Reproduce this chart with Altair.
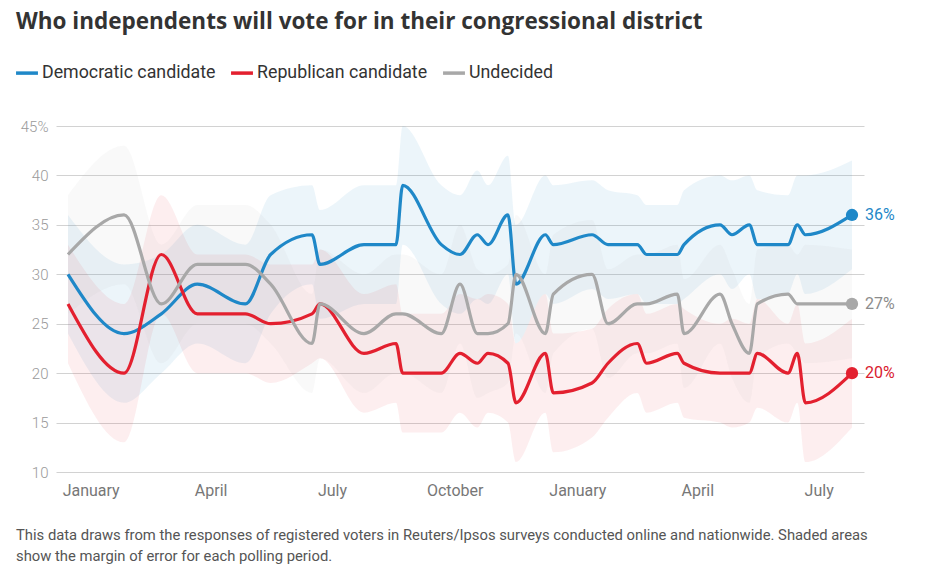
import altair as alt
import pandas as pd

# ---- data ----
dates = ["2016-12-15", "2017-01-26", "2017-02-23", "2017-03-22", "2017-04-27",
         "2017-05-16", "2017-06-16", "2017-06-22", "2017-07-25", "2017-08-18",
         "2017-08-23", "2017-09-21", "2017-10-05", "2017-10-18", "2017-10-26",
         "2017-11-10", "2017-11-16", "2017-12-08", "2017-12-14", "2018-01-12",
         "2018-01-24", "2018-02-15", "2018-02-22", "2018-03-17", "2018-03-22",
         "2018-04-18", "2018-04-27", "2018-05-10", "2018-05-16", "2018-06-08",
         "2018-06-15", "2018-06-21", "2018-07-26"]
dem = [30, 24, 26, 29, 27, 32, 34, 31, 33, 33, 39, 33, 32, 34, 33, 36, 29, 34, 33, 34,
       33, 33, 32, 32, 33, 35, 34, 35, 33, 33, 35, 34, 36]
rep = [27, 20, 32, 26, 26, 25, 26, 27, 22, 23, 20, 20, 22, 21, 22, 21, 17, 22, 18, 19,
       21, 23, 21, 22, 21, 20, 20, 20, 22, 20, 22, 17, 20]
und = [32, 36, 27, 31, 31, 29, 23, 27, 24, 26, 26, 24, 29, 24, 24, 25, 30, 24, 28, 30,
       25, 27, 27, 28, 24, 28, 25, 22, 27, 28, 27, 27, 27]
moe = [6, 7, 6, 6, 6, 6, 5, 5.5, 6, 6, 6, 6, 6, 6.5, 6, 6, 6, 6, 6, 5.5,
       5.5, 5, 5, 5, 5.5, 5, 5.5, 5, 5.5, 5, 5, 6, 5.5]

series_names = ["Democratic candidate", "Republican candidate", "Undecided"]
series_colors = ["#1f88c8", "#e3202f", "#a8a8a8"]
label_colors = ["#1f88c8", "#d9202e", "#8c8c8c"]
band_opacity = [0.085, 0.075, 0.16]

title_text = "Who independents will vote for in their congressional district"
note_lines = ["This data draws from the responses of registered voters in Reuters/Ipsos surveys conducted online and nationwide. Shaded areas",
              "show the margin of error for each polling period."]

# ---- build tables ----
rows = []
for name, vals in zip(series_names, [dem, rep, und]):
    for d, v, m in zip(dates, vals, moe):
        rows.append({"date": d, "series": name, "value": v, "lo": v - m, "hi": v + m})
df = pd.DataFrame(rows)

ends = pd.DataFrame({
    "date": [dates[-1]] * 3,
    "series": series_names,
    "value": [dem[-1], rep[-1], und[-1]],
    "label": [f"{dem[-1]}%", f"{rep[-1]}%", f"{und[-1]}%"],
    "tc": label_colors,
})

W, H = 808, 346
FONT = "Roboto"

xscale = alt.Scale(type="utc",
                   domain=[alt.DateTime(year=2016, month=12, date=6, utc=True),
                           alt.DateTime(year=2018, month=8, date=4, utc=True)])
yscale = alt.Scale(domain=[10, 45], nice=False, zero=False)
cscale = alt.Scale(domain=series_names, range=series_colors)

xaxis = alt.Axis(
    values=[alt.DateTime(year=y, month=m, date=1, utc=True)
            for y, m in [(2017, 1), (2017, 4), (2017, 7), (2017, 10), (2018, 1), (2018, 4), (2018, 7)]],
    format="%B", title=None, ticks=False, domain=False, grid=False,
    labelFontSize=16, labelColor="#777777", labelPadding=10, labelFont=FONT)
yaxis = alt.Axis(
    values=[10, 15, 20, 25, 30, 35, 40, 45],
    labelExpr="datum.value == 45 ? '45%' : datum.label",
    title=None, ticks=False, domain=False, grid=True, gridColor="#d2d2d2", gridWidth=1,
    labelFontSize=15, labelColor="#9a9a9a", labelPadding=8, labelFont=FONT, labelFontWeight=300)

base = alt.Chart(df)

bands = base.mark_area(interpolate="monotone").encode(
    x=alt.X("date:T", scale=xscale, axis=xaxis),
    y=alt.Y("lo:Q", scale=yscale, axis=yaxis),
    y2="hi:Q",
    color=alt.Color("series:N", scale=cscale, legend=alt.Legend(
        orient="none", legendX=-42, legendY=-66, direction="horizontal", title=None,
        symbolType="stroke", symbolStrokeWidth=3.5, symbolSize=480, symbolOpacity=1,
        labelFontSize=17.8, labelColor="#333333", labelFont=FONT, labelLimit=0, columnPadding=8,
        labelOffset=2, padding=0)),
    fillOpacity=alt.FillOpacity("series:N", scale=alt.Scale(domain=series_names, range=band_opacity), legend=None),
)

lines = base.mark_line(interpolate="monotone", strokeWidth=3.2).encode(
    x="date:T",
    y="value:Q",
    color=alt.Color("series:N", scale=cscale),
)

dots = alt.Chart(ends).mark_circle(size=150, opacity=1).encode(
    x="date:T", y="value:Q", color=alt.Color("series:N", scale=cscale))

end_labels = alt.Chart(ends).mark_text(align="left", baseline="middle", dx=13, fontSize=16, font=FONT).encode(
    x="date:T", y="value:Q", text="label:N", fill=alt.Fill("tc:N", scale=None))

title = alt.Chart(pd.DataFrame({"t": [title_text]})).mark_text(
    align="left", baseline="alphabetic", fontSize=22.5, fontWeight="bold", font="Open Sans", color="#333333"
).encode(text="t:N", x=alt.value(-40), y=alt.value(-97.5))

note = alt.Chart(pd.DataFrame({"t": [0]})).mark_text(
    align="left", baseline="alphabetic", fontSize=14.8, font=FONT, color="#555555", lineHeight=21
).encode(text=alt.value(note_lines), x=alt.value(-40), y=alt.value(414))

chart = alt.layer(bands, lines, dots, end_labels, title, note).properties(
    width=W, height=H,
    autosize=alt.AutoSizeParams(type="none"),
    padding={"left": 56, "top": 126, "right": 63, "bottom": 111},
    background="white",
).configure_view(stroke=None)

chart.save("out.html", embed_options={"renderer": "svg", "actions": False})
